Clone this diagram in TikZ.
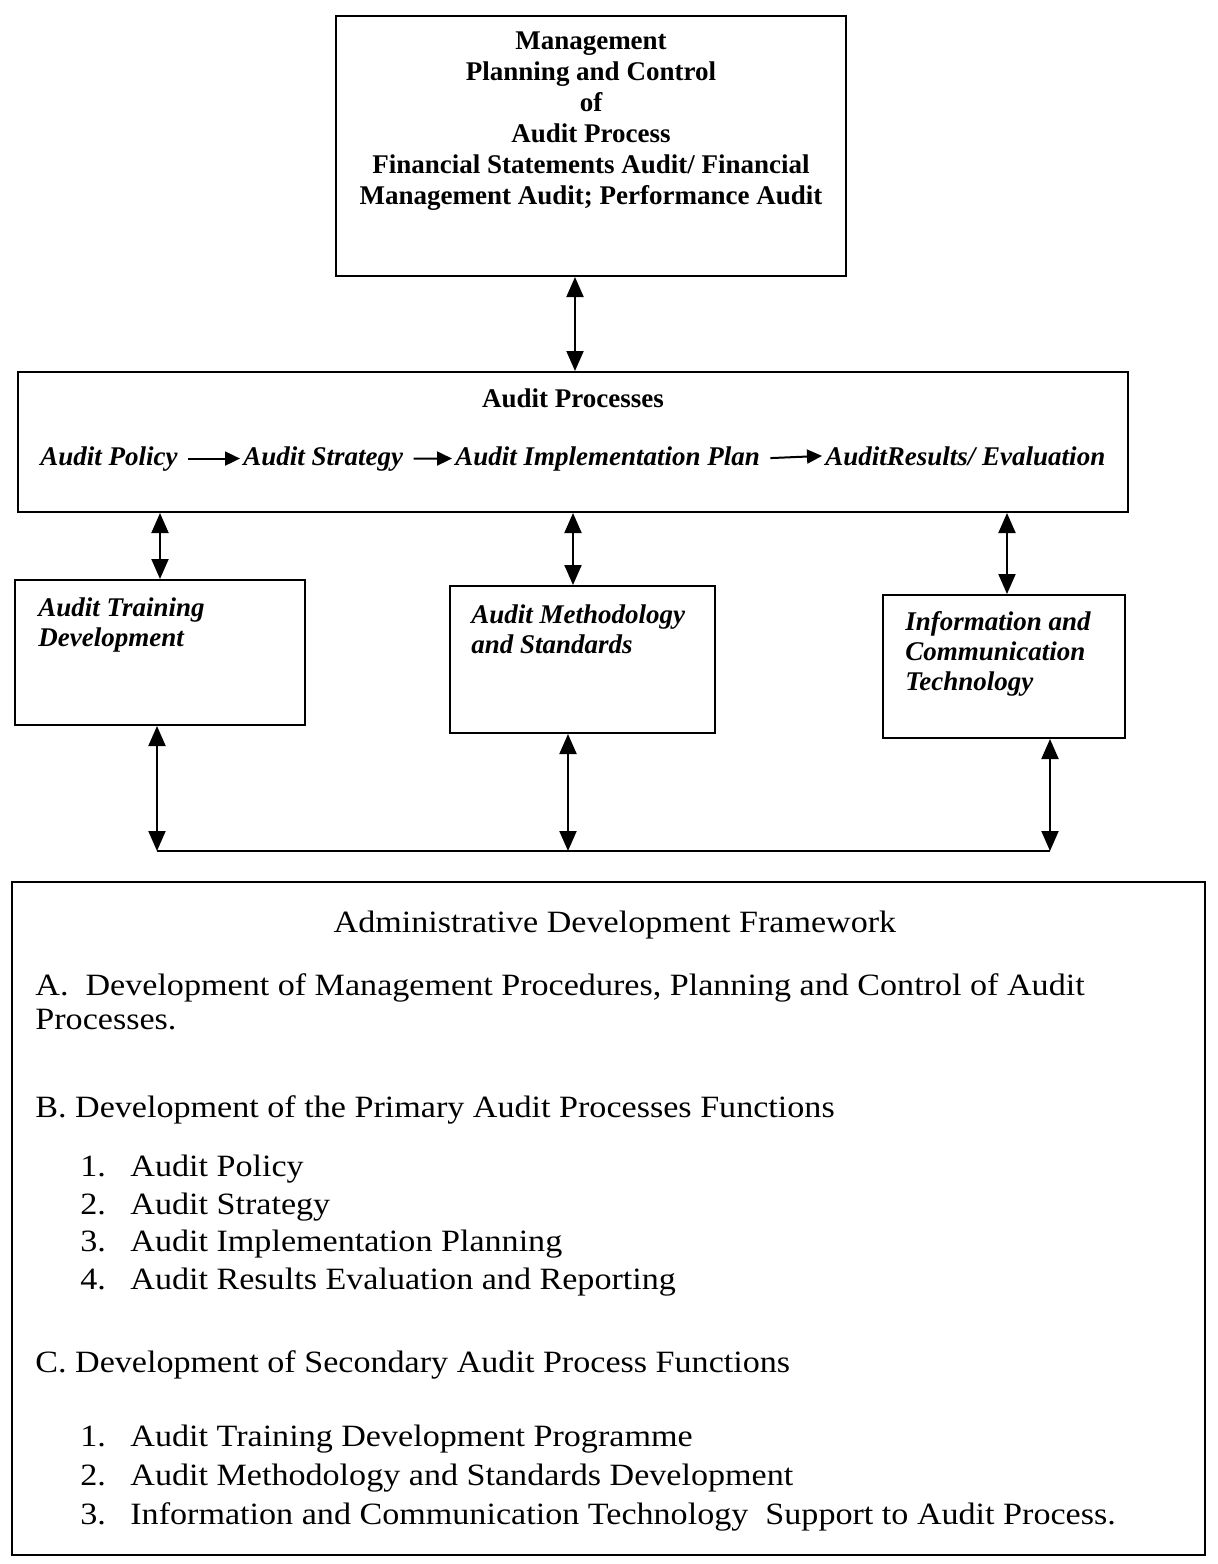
\documentclass[tikz,border=0pt]{standalone}
\usepackage{fontspec}
\setmainfont{Liberation Serif}
\newfontfamily\framefont[FakeStretch=1.1]{Liberation Serif}
\usetikzlibrary{positioning}
\usetikzlibrary{arrows.meta}

\begin{document}
\begin{tikzpicture}[x=0.5pt, y=-0.5pt,
  every node/.style={inner sep=0pt},
  box/.style={rectangle, draw, line width=1pt},
  head/.style={font=\fontsize{13.5}{15.5}\selectfont\bfseries, align=center},
  flow/.style={font=\fontsize{13.5}{16}\selectfont\bfseries\itshape, anchor=base west},
  sub/.style={font=\fontsize{13.5}{15}\selectfont\bfseries\itshape, align=left, anchor=north west},
  body/.style={font=\framefont\fontsize{15.5}{16}\selectfont, anchor=base west},
  link/.style={line width=1pt, {Triangle[length=10pt,width=8.5pt]}-{Triangle[length=10pt,width=8.5pt]}},
  fl/.style={line width=1pt, -{Triangle[length=7.5pt,width=7pt]}, shorten <=5pt, shorten >=1.5pt},
]
  \useasboundingbox (0,0) rectangle (1217,1564);

  % boxes
  \node[box, minimum width=255pt, minimum height=130pt] (mgmt) at (591,146) {};
  \node[box, minimum width=555pt, minimum height=70pt] (proc) at (573,442) {};
  \node[box, minimum width=145pt, minimum height=72.5pt] (atd) at (160,652.5) {};
  \node[box, minimum width=132.5pt, minimum height=73.5pt] (ams) at (582.5,659.5) {};
  \node[box, minimum width=121pt, minimum height=71.5pt] (ict) at (1004,666.5) {};
  \node[box, minimum width=596.5pt, minimum height=336.5pt] (adf) at (608.5,1218.5) {};

  % top box text
  \node[head, anchor=north] (mgmttxt) at (591,31) {
    Management\\
    Planning and Control\\
    of\\
    Audit Process\\
    Financial Statements Audit/ Financial\\
    Management Audit; Performance Audit
  };

  % audit processes
  \node[head, anchor=base] (proctitle) at (573,407) {Audit Processes};
  \node[flow] (pol) at (40,465) {Audit Policy};
  \node[flow] (strat) at (243,465) {Audit Strategy};
  \node[flow] (impl) at (455,465) {Audit Implementation Plan};
  \node[flow] (res) at (825,465) {AuditResults/ Evaluation};
  \draw[fl] (pol.east) -- (strat.west);
  \draw[fl] (strat.east) -- (impl.west);
  \draw[fl] (impl.east) -- (res.west);

  % secondary functions
  \node[sub] (atdtxt) at (38,597) {Audit Training\\Development};
  \node[sub] (amstxt) at (471,604) {Audit Methodology\\and Standards};
  \node[sub] (icttxt) at (905,611) {Information and\\Communication\\Technology};

  % connectors
  \coordinate (busL) at (157,851);
  \coordinate (busM) at (568,851);
  \coordinate (busR) at (1050,851);
  \draw[link] ([xshift=-8pt]mgmt.south) -- ([xshift=-8pt]mgmt.south |- proc.north);
  \draw[link] (atd.north |- proc.south) -- (atd.north);
  \draw[link] ([xshift=-4.75pt]ams.north |- proc.south) -- ([xshift=-4.75pt]ams.north);
  \draw[link] ([xshift=1.5pt]ict.north |- proc.south) -- ([xshift=1.5pt]ict.north);
  \draw[link] ([xshift=-1.5pt]atd.south) -- (busL);
  \draw[link] ([xshift=-7.25pt]ams.south) -- (busM);
  \draw[link] ([xshift=23pt]ict.south) -- (busR);
  \draw[line width=1pt] (busL) -- (busR);

  % framework
  \node[body, anchor=base] (adftitle) at (615,932) {Administrative Development Framework};
  \node[body] (secA) at (35,995) {A.\ \ Development of Management Procedures, Planning and Control of Audit};
  \node[body] (secAb) at (35,1029) {Processes.};
  \node[body] (secB) at (35,1117) {B. Development of the Primary Audit Processes Functions};
  \foreach \num/\txt [count=\i] in {1/Audit Policy, 2/Audit Strategy, 3/Audit Implementation Planning, 4/Audit Results Evaluation and Reporting}
    \node[body] (pri\i) at (80,1139+37.5*\i) {\makebox[25pt][l]{\num.}\txt};
  \node[body] (secC) at (35,1372) {C. Development of Secondary Audit Process Functions};
  \foreach \num/\txt [count=\i] in {1/Audit Training Development Programme, 2/Audit Methodology and Standards Development, 3/Information and Communication Technology\ \ Support to Audit Process.}
    \node[body] (sec\i) at (80,1407+39*\i) {\makebox[25pt][l]{\num.}\txt};
\end{tikzpicture}
\end{document}
